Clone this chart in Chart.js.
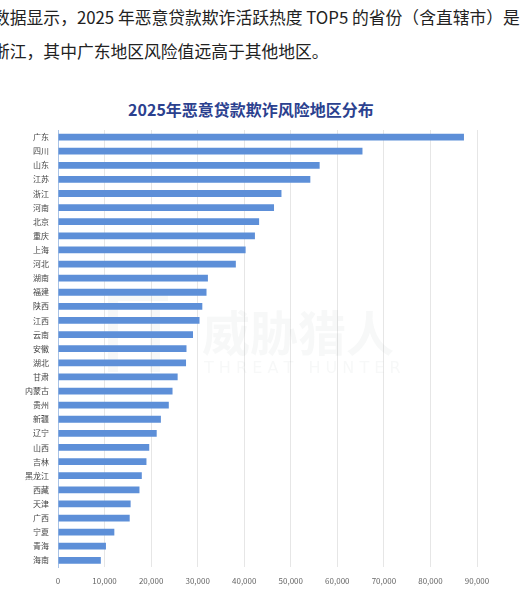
<!DOCTYPE html>
<html>
<head>
<meta charset="utf-8">
<script src="https://cdn.jsdelivr.net/npm/chart.js@4"></script>
<style>
  html, body { margin: 0; padding: 0; background: #fff; overflow: hidden; }
  #wrap { position: relative; width: 521px; height: 613px; }
  .para { position: absolute; left: -7px; white-space: nowrap; font-family: "Noto Sans CJK SC", sans-serif; font-size: 16.8px; color: #222; }
  .chart-title { position: absolute; left: 0; width: 502px; top: 97px; text-align: center; font-family: "Noto Sans CJK SC", sans-serif; font-size: 16px; font-weight: bold; color: #2b418f; }
  #chart-box { position: absolute; left: 0; top: 0; width: 521px; height: 613px; }
</style>
</head>
<body>
<div id="wrap">
  <div class="para" style="top:5px;">数据显示，2025 年恶意贷款欺诈活跃热度 TOP5 的省份（含直辖市）是</div>
  <div class="para" style="top:39px;">浙江，其中广东地区风险值远高于其他地区。</div>
  <div class="chart-title" id="chart-title"></div>
  <div id="chart-box"><canvas id="bar-chart"></canvas></div>
</div>
<script>
const regions = ['广东', '四川', '山东', '江苏', '浙江', '河南', '北京', '重庆', '上海', '河北',
  '湖南', '福建', '陕西', '江西', '云南', '安徽', '湖北', '甘肃', '内蒙古', '贵州',
  '新疆', '辽宁', '山西', '吉林', '黑龙江', '西藏', '天津', '广西', '宁夏', '青海', '海南'];
const riskValues = [87200, 65400, 56200, 54200, 48000, 46400, 43200, 42300, 40300, 38200,
  32200, 31900, 31000, 30400, 29000, 27600, 27500, 25700, 24600, 23800,
  22100, 21200, 19600, 19000, 18000, 17500, 15600, 15400, 12100, 10300, 9200];
const chartTitle = '2025年恶意贷款欺诈风险地区分布';

document.getElementById('chart-title').textContent = chartTitle;

// faint watermark behind the bars
const watermark = {
  id: 'watermark',
  beforeDatasetsDraw(chart) {
    const ctx = chart.ctx;
    ctx.save();
    ctx.fillStyle = 'rgba(120,130,140,0.06)';
    ctx.fillRect(108, 292, 10, 80);
    ctx.fillRect(118, 292, 50, 9);
    ctx.fillRect(150, 310, 10, 62);
    ctx.font = 'bold 48px "Noto Sans CJK SC"';
    ctx.textAlign = 'left';
    ctx.textBaseline = 'middle';
    ctx.fillText('威胁猎人', 202, 333);
    ctx.font = '16px "DejaVu Sans"';
    ctx.fillText('T H R E A T   H U N T E R', 204, 369);
    ctx.restore();
  }
};

new Chart(document.getElementById('bar-chart'), {
  type: 'bar',
  data: {
    labels: regions,
    datasets: [{
      data: riskValues,
      backgroundColor: '#5d8fd8',
      barPercentage: 0.48,
      categoryPercentage: 1
    }]
  },
  plugins: [watermark],
  options: {
    indexAxis: 'y',
    responsive: true,
    maintainAspectRatio: false,
    animation: false,
    layout: { padding: { top: 130, right: 44, bottom: 18, left: 0 } },
    plugins: {
      legend: { display: false },
      tooltip: { enabled: false },
      title: { display: false }
    },
    scales: {
      x: {
        min: 0,
        max: 90000,
        ticks: {
          stepSize: 10000,
          padding: 9,
          color: '#666',
          font: { family: '"Noto Sans CJK SC"', size: 8 },
          callback: v => v.toLocaleString('en-US')
        },
        grid: { color: '#e6e6e6', drawTicks: false },
        border: { display: false }
      },
      y: {
        afterFit(scale) { scale.width = 58; },
        ticks: {
          padding: 9,
          color: '#444',
          font: { family: '"Noto Sans CJK SC"', size: 8 }
        },
        grid: { display: false, drawTicks: false },
        border: { color: '#a9c3e6' }
      }
    }
  }
});
</script>
</body>
</html>
